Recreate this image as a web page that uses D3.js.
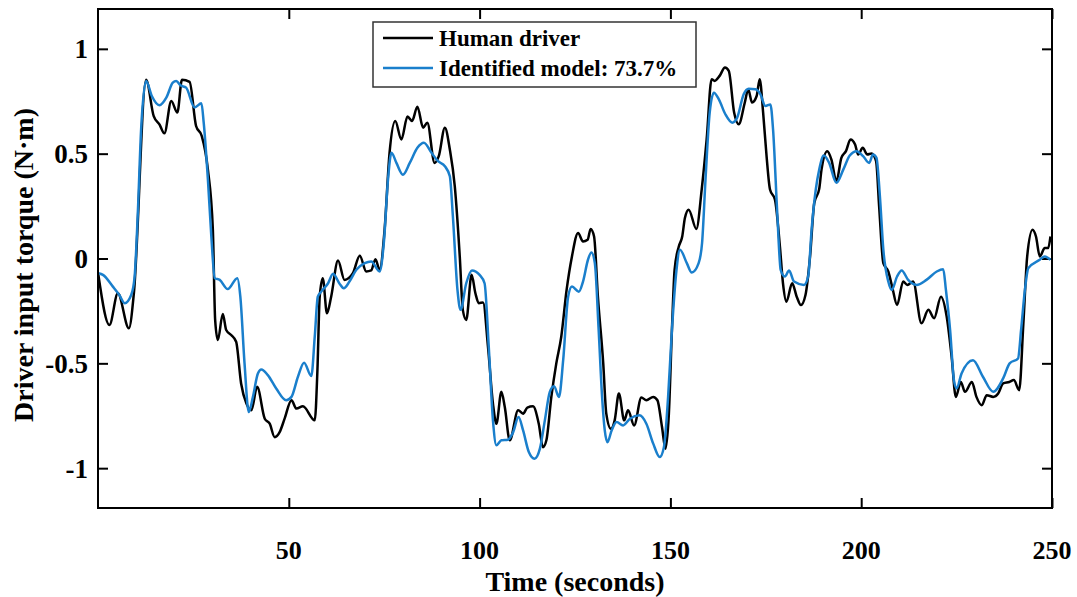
<!DOCTYPE html>
<html>
<head>
<meta charset="utf-8">
<script src="https://cdn.jsdelivr.net/npm/d3@7"></script>
<style>
  body { margin: 0; background: #fff; }
  text { font-family: "Liberation Serif", "Times New Roman", serif; font-weight: bold; }
</style>
</head>
<body>
<svg id="chart" width="1077" height="597"></svg>
<script>
// human driver torque
let humanT = [0.1, 3.0, 5.2, 8.1, 9.4, 12.6, 14.6, 16.1, 17.4, 19.2, 20.8, 22.0, 24.0, 25.7, 27.2, 28.8, 30.1, 30.7, 31.4, 32.7, 33.6, 34.9, 36.2, 37.5, 38.9, 40.2, 41.7, 43.7, 45.0, 46.3, 47.6, 48.9, 50.7, 52.0, 53.7, 56.8, 57.5, 58.1, 58.9, 60.0, 61.1, 62.9, 64.6, 66.8, 68.6, 70.3, 71.6, 72.7, 73.8, 75.1, 76.4, 77.9, 79.5, 81.1, 82.3, 83.7, 85.2, 86.3, 88.2, 89.3, 90.9, 92.2, 93.5, 94.8, 95.6, 96.5, 97.9, 98.9, 99.8, 100.9, 102.2, 103.5, 104.4, 105.7, 106.6, 107.9, 110.1, 111.4, 112.5, 114.0, 115.5, 116.6, 117.5, 118.8, 120.1, 121.4, 122.8, 124.2, 125.8, 127.1, 128.3, 129.1, 130.0, 131.0, 132.4, 133.2, 134.4, 135.4, 136.5, 137.9, 138.9, 140.5, 142.4, 143.7, 145.5, 146.6, 147.8, 148.7, 149.6, 150.4, 151.1, 152.2, 153.1, 153.8, 154.8, 156.8, 158.2, 159.5, 160.8, 161.6, 162.9, 164.3, 165.3, 166.7, 167.9, 169.5, 170.4, 171.4, 172.6, 173.4, 174.3, 175.2, 176.1, 177.4, 178.7, 179.5, 180.4, 181.9, 183.1, 184.2, 185.4, 186.6, 187.7, 189.0, 189.6, 191.1, 192.2, 193.5, 194.8, 196.0, 197.2, 198.4, 199.2, 200.4, 201.6, 202.7, 203.9, 204.7, 205.8, 207.1, 208.2, 209.4, 211.0, 212.1, 213.6, 215.8, 217.6, 219.1, 220.9, 222.4, 223.7, 224.8, 226.1, 227.2, 229.0, 230.2, 231.6, 232.9, 234.6, 235.9, 237.2, 238.8, 240.0, 241.4, 242.5, 243.5, 244.9, 245.8, 246.8, 248.1, 249.0, 249.6]
let humanV = [-0.078, -0.317, -0.166, -0.333, -0.166, 0.852, 0.679, 0.640, 0.597, 0.751, 0.696, 0.852, 0.842, 0.632, 0.584, 0.424, 0.137, -0.293, -0.389, -0.265, -0.341, -0.365, -0.397, -0.596, -0.692, -0.724, -0.612, -0.764, -0.788, -0.852, -0.828, -0.764, -0.676, -0.716, -0.705, -0.772, -0.533, -0.182, -0.094, -0.261, -0.182, -0.010, -0.102, -0.070, 0.013, -0.062, -0.057, -0.003, -0.054, 0.137, 0.504, 0.656, 0.568, 0.677, 0.656, 0.724, 0.624, 0.648, 0.456, 0.488, 0.624, 0.520, 0.344, 0.010, -0.245, -0.293, -0.078, -0.166, -0.213, -0.210, -0.421, -0.692, -0.788, -0.636, -0.708, -0.867, -0.724, -0.740, -0.711, -0.705, -0.788, -0.900, -0.867, -0.660, -0.500, -0.373, -0.150, 0.010, 0.122, 0.081, 0.089, 0.141, 0.105, -0.182, -0.500, -0.740, -0.812, -0.772, -0.644, -0.772, -0.724, -0.796, -0.663, -0.676, -0.660, -0.676, -0.804, -0.907, -0.740, -0.341, -0.054, 0.057, 0.105, 0.193, 0.233, 0.141, 0.329, 0.568, 0.855, 0.847, 0.871, 0.911, 0.895, 0.696, 0.640, 0.744, 0.807, 0.744, 0.775, 0.855, 0.696, 0.488, 0.329, 0.281, 0.057, -0.118, -0.206, -0.118, -0.182, -0.222, -0.174, 0.010, 0.265, 0.332, 0.424, 0.512, 0.472, 0.368, 0.480, 0.512, 0.568, 0.544, 0.496, 0.528, 0.496, 0.501, 0.464, 0.249, -0.022, -0.062, -0.142, -0.222, -0.110, -0.126, -0.110, -0.309, -0.245, -0.285, -0.182, -0.277, -0.469, -0.660, -0.589, -0.636, -0.589, -0.660, -0.700, -0.652, -0.660, -0.644, -0.596, -0.589, -0.580, -0.628, -0.309, 0.010, 0.137, 0.105, 0.010, 0.050, 0.050, 0.105]

// identified model output
let modelT = [0.1, 1.3, 3.9, 5.6, 7.0, 8.7, 9.6, 10.4, 11.3, 12.6, 14.1, 16.1, 17.9, 19.6, 20.5, 21.6, 23.1, 25.3, 27.1, 27.7, 28.8, 29.7, 30.6, 31.9, 34.0, 36.5, 37.3, 38.4, 39.5, 40.6, 41.9, 42.8, 44.5, 46.7, 49.3, 50.7, 52.4, 54.0, 55.9, 56.8, 57.6, 58.5, 60.3, 61.6, 63.3, 64.4, 65.9, 67.7, 69.9, 71.6, 73.8, 74.9, 76.0, 76.9, 78.2, 79.9, 81.7, 83.7, 85.4, 87.4, 89.1, 90.9, 92.2, 93.0, 94.2, 95.0, 96.5, 98.0, 100.0, 101.3, 102.4, 103.5, 104.4, 105.7, 107.4, 108.8, 110.2, 111.4, 112.9, 114.4, 115.8, 117.1, 118.4, 119.5, 120.8, 121.9, 123.2, 124.2, 126.0, 127.1, 128.4, 129.3, 130.2, 131.2, 132.1, 132.8, 133.5, 134.6, 135.9, 137.6, 139.4, 141.9, 143.7, 145.5, 147.2, 148.3, 149.4, 150.4, 151.6, 152.5, 154.3, 155.6, 157.4, 158.3, 159.2, 160.3, 161.4, 162.7, 164.4, 166.2, 167.5, 169.2, 170.5, 172.3, 173.6, 174.9, 176.2, 176.9, 178.0, 178.9, 180.0, 181.1, 182.4, 185.0, 186.1, 187.0, 188.1, 189.0, 190.2, 191.6, 193.5, 195.3, 197.0, 198.8, 200.5, 202.1, 203.1, 204.0, 204.9, 205.8, 207.1, 208.0, 209.4, 210.6, 212.3, 214.5, 217.1, 219.8, 221.5, 222.2, 223.3, 224.3, 225.0, 226.3, 229.3, 231.9, 234.6, 237.2, 238.9, 241.1, 241.9, 242.9, 243.8, 246.8, 248.1, 249.6]
let modelV = [-0.070, -0.078, -0.134, -0.174, -0.213, -0.174, -0.086, 0.201, 0.616, 0.847, 0.775, 0.731, 0.767, 0.839, 0.847, 0.826, 0.815, 0.720, 0.740, 0.648, 0.377, 0.105, -0.094, -0.102, -0.146, -0.094, -0.182, -0.500, -0.732, -0.660, -0.548, -0.529, -0.556, -0.620, -0.676, -0.660, -0.564, -0.497, -0.561, -0.373, -0.182, -0.158, -0.118, -0.073, -0.120, -0.142, -0.110, -0.054, -0.022, -0.014, -0.062, 0.074, 0.377, 0.504, 0.456, 0.400, 0.456, 0.528, 0.552, 0.504, 0.464, 0.440, 0.392, 0.201, -0.150, -0.245, -0.118, -0.057, -0.078, -0.118, -0.421, -0.772, -0.891, -0.867, -0.864, -0.828, -0.756, -0.820, -0.923, -0.955, -0.907, -0.772, -0.636, -0.609, -0.660, -0.485, -0.182, -0.134, -0.158, -0.110, -0.006, 0.029, -0.022, -0.341, -0.660, -0.820, -0.876, -0.820, -0.780, -0.796, -0.764, -0.748, -0.788, -0.883, -0.947, -0.900, -0.660, -0.341, -0.054, 0.042, -0.022, -0.067, -0.022, 0.074, 0.377, 0.696, 0.791, 0.759, 0.688, 0.648, 0.672, 0.783, 0.810, 0.807, 0.783, 0.727, 0.735, 0.616, 0.217, -0.054, -0.086, -0.057, -0.110, -0.126, -0.086, 0.137, 0.329, 0.424, 0.491, 0.456, 0.361, 0.424, 0.491, 0.512, 0.488, 0.456, 0.496, 0.480, 0.297, 0.042, -0.110, -0.150, -0.086, -0.057, -0.102, -0.126, -0.102, -0.062, -0.051, -0.150, -0.341, -0.580, -0.620, -0.548, -0.485, -0.564, -0.636, -0.572, -0.500, -0.477, -0.341, -0.150, -0.046, -0.006, 0.010, -0.006]

let xTicks = [50, 100, 150, 200, 250]
let yTicks = [-1, -0.5, 0, 0.5, 1]
let legendLabels = ["Human driver", "Identified model: 73.7%"]

let colors = ["#000000", "#1a7fcc"]

var svg = d3.select("#chart"),
    pLeft = 98, pRight = 1052, pTop = 9, pBottom = 508;

var x = d3.scaleLinear().domain([0, 250]).range([pLeft, pRight]);
var y = d3.scaleLinear().domain([-1.19, 1.19]).range([pBottom, pTop]);

svg.append("clipPath").attr("id", "plotClip")
    .append("rect")
    .attr("x", pLeft).attr("y", pTop)
    .attr("width", pRight - pLeft).attr("height", pBottom - pTop);

// ticks on all four sides, pointing inward
svg.append("g")
    .attr("transform", "translate(0," + pBottom + ")")
    .call(d3.axisTop(x).tickValues(xTicks).tickSize(10).tickFormat(""))
    .call(g => g.select(".domain").remove());
svg.append("g")
    .attr("transform", "translate(0," + pTop + ")")
    .call(d3.axisBottom(x).tickValues(xTicks).tickSize(10).tickFormat(""))
    .call(g => g.select(".domain").remove());
svg.append("g")
    .attr("transform", "translate(" + pLeft + ",0)")
    .call(d3.axisRight(y).tickValues(yTicks).tickSize(10).tickFormat(""))
    .call(g => g.select(".domain").remove());
svg.append("g")
    .attr("transform", "translate(" + pRight + ",0)")
    .call(d3.axisLeft(y).tickValues(yTicks).tickSize(10).tickFormat(""))
    .call(g => g.select(".domain").remove());
svg.selectAll(".tick line").attr("stroke", "#000").attr("stroke-width", 2);

// tick labels
svg.append("g").selectAll("text")
    .data(xTicks)
    .enter().append("text")
    .attr("x", d => x(d))
    .attr("y", 559)
    .attr("text-anchor", "middle")
    .attr("font-size", 26)
    .text(d => d);

svg.append("g").selectAll("text")
    .data(yTicks)
    .enter().append("text")
    .attr("x", 88)
    .attr("y", d => y(d))
    .attr("dy", "0.35em")
    .attr("text-anchor", "end")
    .attr("font-size", 27)
    .text(d => d);

// the two series
let human = humanT.map((t, i) => [t, humanV[i]])
let model = modelT.map((t, i) => [t, modelV[i]])

var line = d3.line()
    .x(d => x(d[0]))
    .y(d => y(d[1]))
    .curve(d3.curveMonotoneX);

var plot = svg.append("g").attr("clip-path", "url(#plotClip)");

plot.append("path")
    .datum(human)
    .attr("fill", "none")
    .attr("stroke", colors[0])
    .attr("stroke-width", 2.5)
    .attr("stroke-linejoin", "round")
    .attr("d", line);

plot.append("path")
    .datum(model)
    .attr("fill", "none")
    .attr("stroke", colors[1])
    .attr("stroke-width", 2.5)
    .attr("stroke-linejoin", "round")
    .attr("d", line);

// frame
svg.append("rect")
    .attr("x", pLeft).attr("y", pTop)
    .attr("width", pRight - pLeft).attr("height", pBottom - pTop)
    .attr("fill", "none")
    .attr("stroke", "#000")
    .attr("stroke-width", 2);

// legend
var lg = svg.append("g").attr("transform", "translate(373,22)");
lg.append("rect")
    .attr("width", 323).attr("height", 65)
    .attr("fill", "#fff")
    .attr("stroke", "#333")
    .attr("stroke-width", 1.5);

legendLabels.forEach((label, i) => {
    lg.append("line")
        .attr("x1", 10).attr("x2", 60)
        .attr("y1", 16 + i * 30).attr("y2", 16 + i * 30)
        .attr("stroke", colors[i])
        .attr("stroke-width", 2.5);
    lg.append("text")
        .attr("x", 66)
        .attr("y", 16 + i * 30)
        .attr("dy", "0.35em")
        .attr("font-size", 23)
        .text(label);
});

// axis titles
svg.append("text")
    .attr("x", 575)
    .attr("y", 591)
    .attr("text-anchor", "middle")
    .attr("font-size", 28)
    .text("Time (seconds)");

svg.append("text")
    .attr("transform", "translate(33,265) rotate(-90)")
    .attr("text-anchor", "middle")
    .attr("font-size", 28)
    .text("Driver input torque (N·m)");
</script>
</body>
</html>
